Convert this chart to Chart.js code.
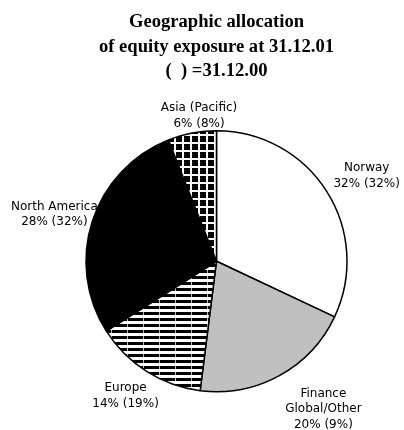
<!DOCTYPE html>
<html>
<head>
<meta charset="utf-8">
<script src="https://cdn.jsdelivr.net/npm/chart.js@4"></script>
<style>
  html, body { margin: 0; padding: 0; background: #fff; }
  #wrap { width: 404px; height: 430px; }
</style>
</head>
<body>
<div id="wrap"><canvas id="pie" width="404" height="430"></canvas></div>
<script>
// regions, clockwise from 12 o'clock
const regions = [['Norway'], ['Finance', 'Global/Other'], ['Europe'], ['North America'], ['Asia (Pacific)']];
const share2001 = [32, 20, 14, 28, 6];
const share2000 = [32, 9, 19, 32, 8];
const titleLines = ['Geographic allocation', 'of equity exposure at 31.12.01', '(  ) =31.12.00'];

// fills like the old b/w print
function stripes() {
  const c = document.createElement('canvas');
  c.width = 16; c.height = 6;
  const g = c.getContext('2d');
  g.fillStyle = '#fff'; g.fillRect(0, 0, 16, 6);
  g.fillStyle = '#000'; g.fillRect(0, 0, 16, 3);
  g.fillStyle = '#bbb'; g.fillRect(15, 0, 1, 3);
  return g.createPattern(c, 'repeat');
}
function checks() {
  const c = document.createElement('canvas');
  c.width = 8; c.height = 8;
  const g = c.getContext('2d');
  g.fillStyle = '#fff'; g.fillRect(0, 0, 8, 8);
  g.fillStyle = '#000'; g.fillRect(0, 0, 6, 6);
  return g.createPattern(c, 'repeat');
}

// where each label sits, relative to the rim point at the slice middle
const nudge = [[40, -20], [44, 21], [-21, 20], [-38, -11], [7, -22]];

const outsideLabels = {
  id: 'outsideLabels',
  afterDraw(chart) {
    const ctx = chart.ctx;
    const arcs = chart.getDatasetMeta(0).data;
    ctx.save();
    ctx.font = '12px "DejaVu Sans"';
    ctx.fillStyle = '#000';
    ctx.textAlign = 'center';
    ctx.textBaseline = 'alphabetic';
    arcs.forEach((arc, i) => {
      const p = arc.getProps(['x', 'y', 'startAngle', 'endAngle', 'outerRadius'], true);
      const mid = (p.startAngle + p.endAngle) / 2;
      const ex = p.x + Math.cos(mid) * p.outerRadius;
      const ey = p.y + Math.sin(mid) * p.outerRadius;
      const lines = regions[i].concat([share2001[i] + '% (' + share2000[i] + '%)']);
      lines.forEach((t, k) => {
        ctx.fillText(t, ex + nudge[i][0], ey + nudge[i][1] + k * 15.5);
      });
    });
    ctx.restore();
  }
};

new Chart(document.getElementById('pie'), {
  type: 'pie',
  data: {
    labels: regions.map(r => r.join(' ')),
    datasets: [{
      data: share2001,
      backgroundColor: ['#ffffff', '#c0c0c0', stripes(), '#000000', checks()],
      borderColor: '#000',
      borderWidth: 1.5
    }]
  },
  options: {
    responsive: false,
    animation: false,
    layout: { padding: { left: 85, right: 56, top: 0, bottom: 37.5 } },
    plugins: {
      legend: { display: false },
      tooltip: { enabled: false },
      title: {
        display: true,
        text: titleLines,
        color: '#000',
        font: { family: '"Liberation Serif", "Times New Roman", serif', size: 18.6, weight: 'bold', lineHeight: '24.5px' },
        padding: { top: 10, bottom: 46.5 }
      }
    }
  },
  plugins: [outsideLabels]
});
</script>
</body>
</html>
